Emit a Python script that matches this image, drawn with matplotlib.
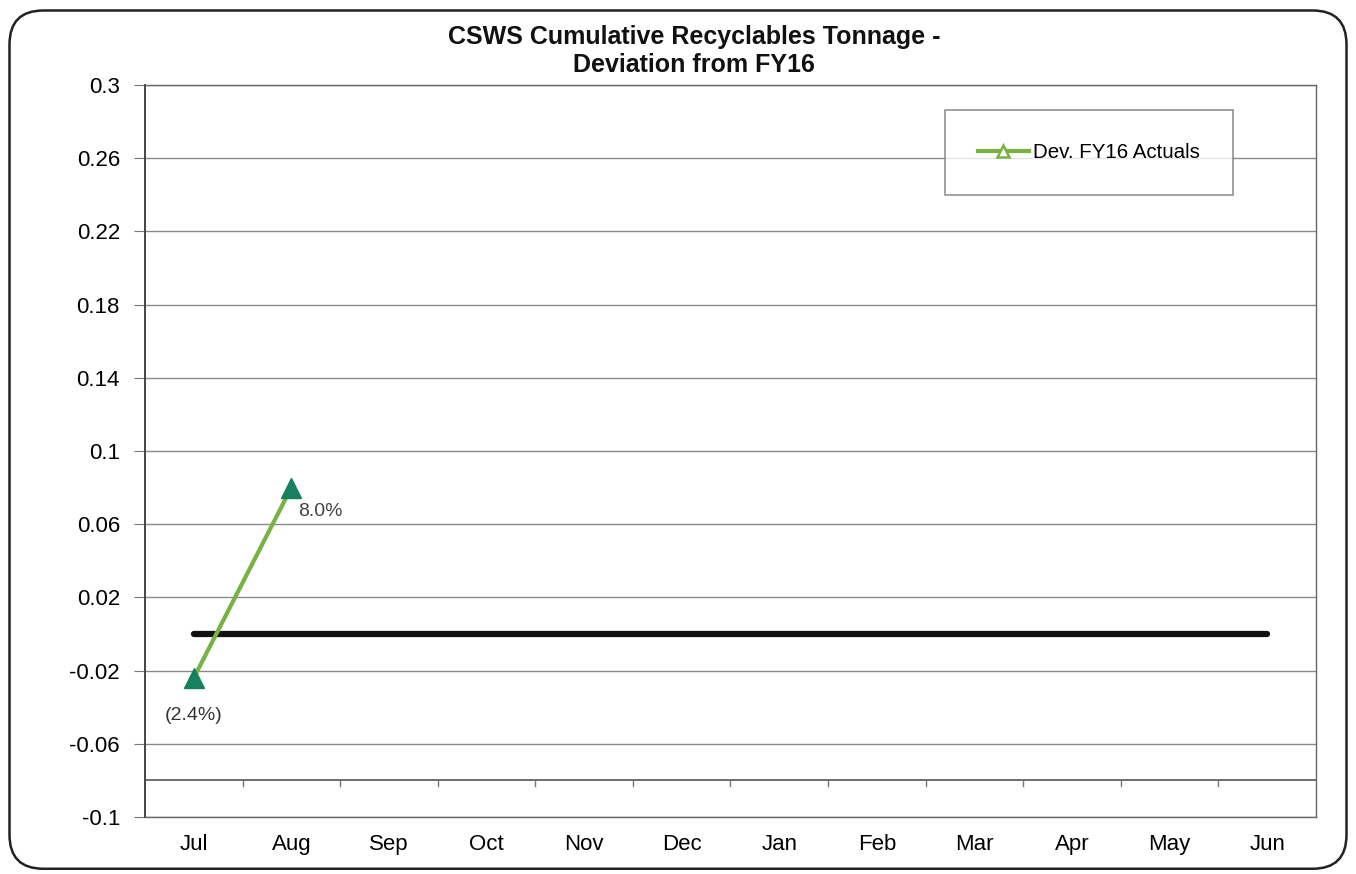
import matplotlib
matplotlib.use("Agg")
import matplotlib.pyplot as plt
from matplotlib.patches import FancyBboxPatch
import numpy as np

months = ["Jul", "Aug", "Sep", "Oct", "Nov", "Dec", "Jan", "Feb", "Mar", "Apr", "May", "Jun"]
dev_values = [-0.024, 0.080]
dev_labels = ["(2.4%)", "8.0%"]
baseline = [0.0] * len(months)
y_ticks = [-0.1, -0.06, -0.02, 0.02, 0.06, 0.1, 0.14, 0.18, 0.22, 0.26, 0.3]
y_tick_labels = ["-0.1", "-0.06", "-0.02", "0.02", "0.06", "0.1", "0.14", "0.18", "0.22", "0.26", "0.3"]
axis_cross = -0.08

plt.rcParams['font.family'] = ['Liberation Sans', 'DejaVu Sans']

fig = plt.figure(figsize=(13.56, 8.74), dpi=100)
fig.patch.set_facecolor("white")
border = FancyBboxPatch((0.007, 0.006), 0.986, 0.982, boxstyle="round,pad=0,rounding_size=0.025",
                        transform=fig.transFigure, facecolor="none", edgecolor="#222222", lw=1.8,
                        mutation_aspect=1356/874)
fig.patches.append(border)

ax = fig.add_axes([0.1069, 0.0652, 0.8636, 0.8375])
x = np.arange(len(months))
ax.set_xlim(-0.5, len(months) - 0.5)
ax.set_ylim(-0.1, 0.3)

for yv in y_ticks:
    ax.axhline(yv, color="#8a8a8a", lw=1.0, zorder=1)
ax.axhline(axis_cross, color="#555555", lw=1.2, zorder=1)
for k in range(1, len(months)):
    ax.plot([k - 0.5, k - 0.5], [axis_cross, axis_cross - 0.003], color="#777777", lw=1.0, zorder=1)

ax.plot(x, baseline, color="#111111", lw=4.5, solid_capstyle="round", zorder=2)

xd = x[:len(dev_values)]
ax.plot(xd, dev_values, color="#77b243", lw=3, zorder=3)
ax.plot(xd, dev_values, linestyle="none", marker="^", markersize=14, color="#17815e", zorder=4)
ax.plot([], [], color="#77b243", lw=3, marker="^", markersize=8, markerfacecolor="white",
        markeredgecolor="#77b243", markeredgewidth=1.8, label="Dev. FY16 Actuals")

ax.annotate(dev_labels[0], (xd[0], dev_values[0]), xytext=(0, -27), textcoords="offset points",
            ha="center", va="center", fontsize=14, color="#333333")
ax.annotate(dev_labels[1], (xd[1], dev_values[1]), xytext=(21, -17), textcoords="offset points",
            ha="center", va="center", fontsize=14, color="#444444")

ax.set_yticks(y_ticks)
ax.set_yticklabels(y_tick_labels, fontsize=16)
ax.set_xticks(x)
ax.set_xticklabels(months, fontsize=16)
ax.tick_params(axis="x", length=0, pad=12)
ax.tick_params(axis="y", length=8, color="#777777", pad=10, direction="out")
for s in ax.spines.values():
    s.set_color("#666666")
    s.set_linewidth(1.0)
ax.spines["left"].set_color("#444444")
ax.spines["left"].set_linewidth(1.4)

leg = ax.legend(loc="upper left", bbox_to_anchor=(0.683, 0.966), fontsize=14.8, frameon=True,
                fancybox=False, edgecolor="#777777", borderpad=1.6, handlelength=2.5,
                handletextpad=0.2, borderaxespad=0)
leg.get_frame().set_linewidth(1.2)
leg.set_zorder(10)

fig.text(0.512, 0.958, "CSWS Cumulative Recyclables Tonnage -", ha="center", va="center",
         fontsize=18, fontweight="bold", color="#111111")
fig.text(0.512, 0.926, "Deviation from FY16", ha="center", va="center",
         fontsize=18, fontweight="bold", color="#111111")

fig.savefig("out.png", dpi=100)
